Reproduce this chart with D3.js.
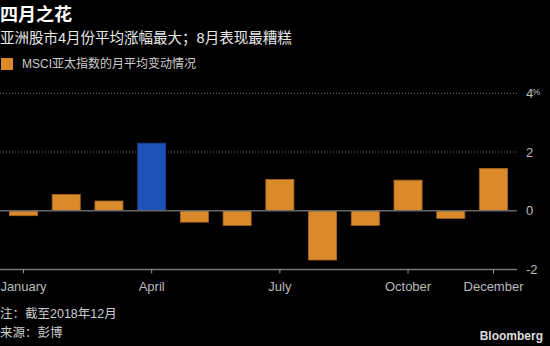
<!DOCTYPE html>
<html><head><meta charset="utf-8">
<script src="https://cdn.jsdelivr.net/npm/d3@7/dist/d3.min.js"></script>
<style>
html,body{margin:0;padding:0;background:#000;}
svg{display:block;}
text{font-family:"Liberation Sans","Noto Sans CJK SC",sans-serif;}
</style></head>
<body>
<svg id="c" width="550" height="346"></svg>
<script>
const months = ["January","February","March","April","May","June","July","August","September","October","November","December"];
const values = [-0.17,0.55,0.33,2.30,-0.39,-0.50,1.06,-1.68,-0.50,1.04,-0.26,1.44];
const highlight = ["April"];
const xTickLabels = ["January","April","July","October","December"];
const yTicks = [-2,0,2,4];
const title = "四月之花";
const subtitle = "亚洲股市4月份平均涨幅最大；8月表现最糟糕";
const legendLabel = "MSCI亚太指数的月平均变动情况";
const note = "注：截至2018年12月";
const source = "来源：彭博";

const svg = d3.select("#c");
svg.append("rect").attr("width",550).attr("height",346).attr("fill","#000");

const x = d3.scaleBand().domain(months).range([0,517]).paddingInner(0.32).paddingOuter(0.21);
const y = d3.scaleLinear().domain([-2,4]).range([269.4,93.3]);

// gridlines
const g = svg.append("g");
[2,4].forEach(v=>{
  g.append("line").attr("x1",0).attr("x2",517).attr("y1",y(v)).attr("y2",y(v))
   .attr("stroke","#777").attr("stroke-width",1).attr("stroke-dasharray","1,2");
});

// bars
svg.append("g").selectAll("rect").data(values).join("rect")
  .attr("x",(d,i)=>x(months[i])+0.5)
  .attr("width",x.bandwidth()-1)
  .attr("y",d=>Math.min(y(d),y(0)))
  .attr("height",d=>Math.abs(y(d)-y(0)))
  .attr("fill",(d,i)=>highlight.includes(months[i])?"#1f52b8":"#da8a2b")
  .attr("stroke",(d,i)=>highlight.includes(months[i])?"#16408f":"#a9661c")
  .attr("stroke-width",0.8);

// zero line
svg.append("line").attr("x1",0).attr("x2",517).attr("y1",y(0)).attr("y2",y(0))
  .attr("stroke","#666").attr("stroke-width",1.5);

// x axis
const xAxis = d3.axisBottom(x).tickValues(xTickLabels).tickSize(4).tickSizeOuter(0).tickPadding(6);
const xa = svg.append("g").attr("transform",`translate(0,${y(-2)})`).call(xAxis);
xa.select(".domain").attr("d","M0,0H517").attr("stroke","#777").attr("stroke-width",1.5);
xa.selectAll(".tick line").attr("stroke","#999");
xa.selectAll(".tick text").attr("fill","#bbb").attr("font-size",13).attr("dy","0.9em");

// y axis labels
const ya = d3.axisRight(y).tickValues(yTicks).tickSize(0).tickPadding(0);
const yg = svg.append("g").attr("transform","translate(526,0)").call(ya);
yg.select(".domain").remove();
yg.selectAll(".tick text").attr("fill","#bbb").attr("font-size",13).attr("x",0)
  .text(d=>d<0?"-"+Math.abs(d):d)
  .each(function(d){ if(d===4){ d3.select(this).append("tspan").attr("font-size",9).attr("dy","-0.3em").attr("dx","-1").text("%"); } });

// titles
svg.append("text").attr("x",0).attr("y",21).attr("fill","#fff").attr("font-size",18).attr("font-weight","bold").text(title);
svg.append("text").attr("x",0).attr("y",43).attr("fill","#e8e8e8").attr("font-size",14.5).text(subtitle);

// legend
svg.append("rect").attr("x",1).attr("y",58).attr("width",12).attr("height",12).attr("fill","#da8a2b");
svg.append("text").attr("x",22).attr("y",64).attr("dy","0.35em").attr("fill","#ccc").attr("font-size",12).text(legendLabel);

// footer
svg.append("text").attr("x",0).attr("y",314).attr("dy","0.35em").attr("fill","#ccc").attr("font-size",12.5).text(note);
svg.append("text").attr("x",0).attr("y",332.5).attr("dy","0.35em").attr("fill","#ccc").attr("font-size",12.5).text(source);
svg.append("text").attr("x",543).attr("y",335.7).attr("dy","0.35em").attr("text-anchor","end").attr("fill","#ddd").attr("font-size",12).attr("font-weight","bold").text("Bloomberg");
</script>
</body></html>
